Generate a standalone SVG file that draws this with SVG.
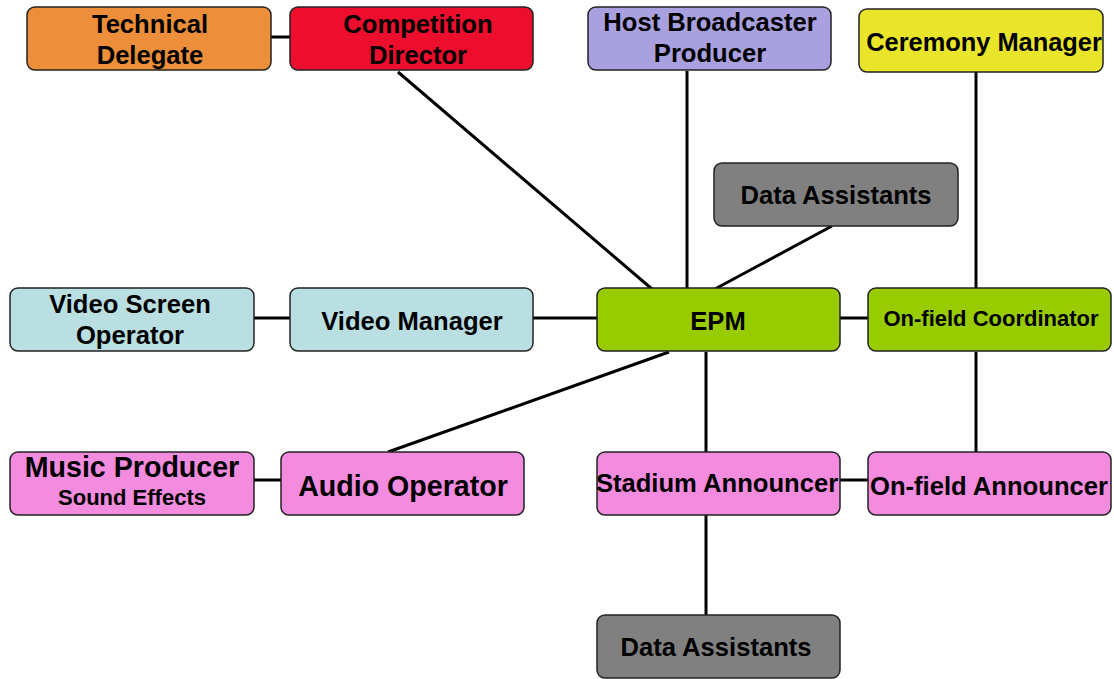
<svg xmlns="http://www.w3.org/2000/svg" width="1114" height="679" viewBox="0 0 1114 679">
<style>
.box{stroke:#222;stroke-width:1.5}
.t{font-family:"Liberation Sans",Arial,sans-serif;font-weight:bold;font-size:25.6px;fill:#000;text-anchor:middle}
.c line{stroke:#000;stroke-width:3}
</style>
<rect width="1114" height="679" fill="#fff"/>
<g class="c" id="connectors">
<line x1="271" y1="37" x2="290" y2="37"/>
<line x1="398" y1="72" x2="652" y2="289"/>
<line x1="687" y1="71" x2="687" y2="289"/>
<line x1="832" y1="226" x2="715" y2="289"/>
<line x1="976" y1="72" x2="976" y2="288"/>
<line x1="254" y1="318" x2="290" y2="318"/>
<line x1="533" y1="318" x2="597" y2="318"/>
<line x1="840" y1="318" x2="868" y2="318"/>
<line x1="669" y1="352" x2="388" y2="452"/>
<line x1="706" y1="352" x2="706" y2="452"/>
<line x1="976" y1="352" x2="976" y2="452"/>
<line x1="840" y1="480" x2="868" y2="480"/>
<line x1="254" y1="480" x2="281" y2="480"/>
<line x1="706" y1="515" x2="706" y2="615"/>
</g>
<g id="technical-delegate"><rect class="box" x="27" y="7" width="244" height="63" rx="8" fill="#EC8E3A"/><text class="t" x="150" y="33">Technical</text><text class="t" x="150" y="64">Delegate</text></g>
<g id="competition-director"><rect class="box" x="290" y="7" width="243" height="63" rx="8" fill="#EC0E2C"/><text class="t" x="418" y="33">Competition</text><text class="t" x="418" y="64">Director</text></g>
<g id="host-broadcaster"><rect class="box" x="588" y="7" width="243" height="63" rx="8" fill="#A9A0DF"/><text class="t" x="710" y="31">Host Broadcaster</text><text class="t" x="710" y="62">Producer</text></g>
<g id="ceremony-manager"><rect class="box" x="859" y="9" width="244" height="63" rx="8" fill="#E8E52A"/><text class="t" x="984" y="51" style="font-size:25.4px">Ceremony Manager</text></g>
<g id="data-assistants-top"><rect class="box" x="714" y="163" width="244" height="63" rx="8" fill="#808080"/><text class="t" x="836" y="204">Data Assistants</text></g>
<g id="video-screen-operator"><rect class="box" x="10" y="288" width="244" height="63" rx="8" fill="#B9DFE3"/><text class="t" x="130" y="313">Video Screen</text><text class="t" x="130" y="344">Operator</text></g>
<g id="video-manager"><rect class="box" x="290" y="288" width="243" height="63" rx="8" fill="#B9DFE3"/><text class="t" x="412" y="330">Video Manager</text></g>
<g id="epm"><rect class="box" x="597" y="288" width="243" height="63" rx="8" fill="#99CC00"/><text class="t" x="718" y="330">EPM</text></g>
<g id="on-field-coordinator"><rect class="box" x="868" y="288" width="243" height="63" rx="8" fill="#99CC00"/><text class="t" x="991" y="326" style="font-size:22px">On-field Coordinator</text></g>
<g id="music-producer"><rect class="box" x="10" y="452" width="244" height="63" rx="8" fill="#F38BDE"/><text class="t" x="132" y="477" style="font-size:28.6px">Music Producer</text><text class="t" x="132" y="505" style="font-size:22px">Sound Effects</text></g>
<g id="audio-operator"><rect class="box" x="281" y="452" width="243" height="63" rx="8" fill="#F38BDE"/><text class="t" x="403" y="496" style="font-size:28.6px">Audio Operator</text></g>
<g id="stadium-announcer"><rect class="box" x="597" y="452" width="243" height="63" rx="8" fill="#F38BDE"/><text class="t" x="717" y="492">Stadium Announcer</text></g>
<g id="on-field-announcer"><rect class="box" x="868" y="452" width="243" height="63" rx="8" fill="#F38BDE"/><text class="t" x="989" y="495">On-field Announcer</text></g>
<g id="data-assistants-bottom"><rect class="box" x="597" y="615" width="243" height="63" rx="8" fill="#808080"/><text class="t" x="716" y="656">Data Assistants</text></g>
</svg>
